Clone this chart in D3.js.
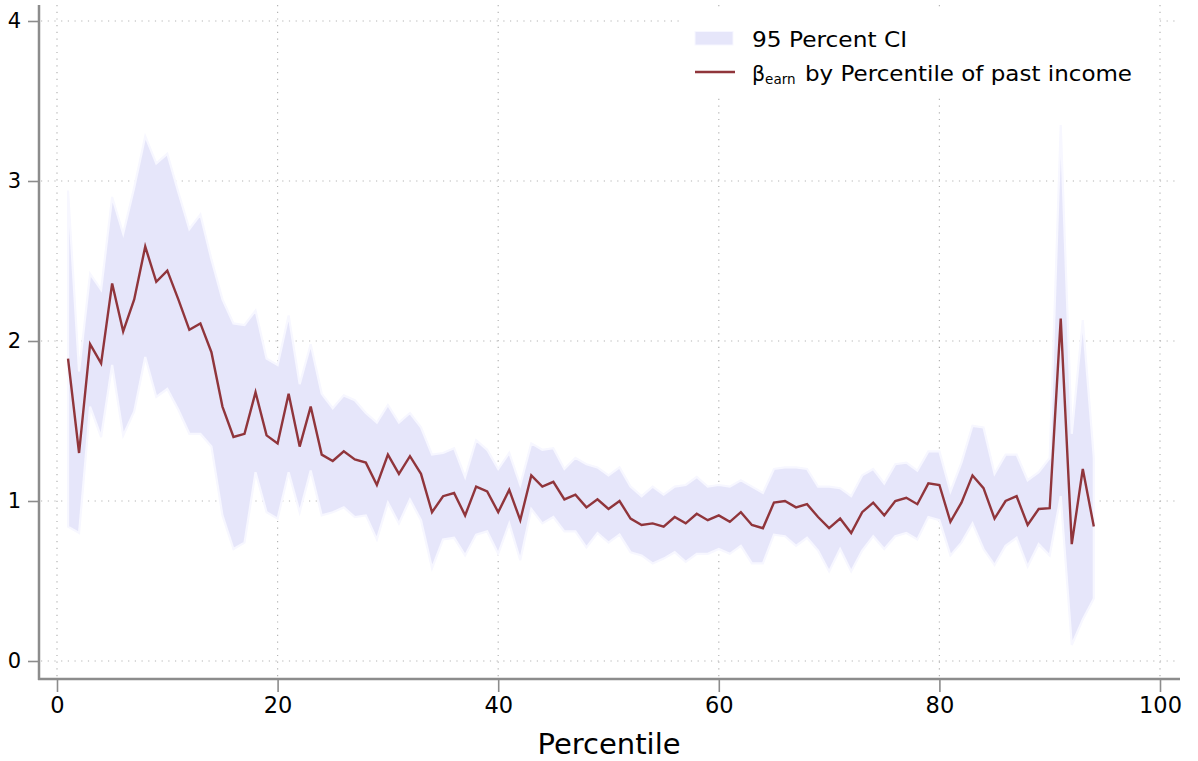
<!DOCTYPE html>
<html><head><meta charset="utf-8">
<script src="https://cdn.jsdelivr.net/npm/d3@7"></script>
<style>body{margin:0;background:#fff}svg{display:block;font-family:"DejaVu Sans",sans-serif}</style>
</head><body><svg id="c" width="1198" height="761"></svg>
<script>
const percentile = [1,2,3,4,5,6,7,8,9,10,11,12,13,14,15,16,17,18,19,20,21,22,23,24,25,26,27,28,29,30,31,32,33,34,35,36,37,38,39,40,41,42,43,44,45,46,47,48,49,50,51,52,53,54,55,56,57,58,59,60,61,62,63,64,65,66,67,68,69,70,71,72,73,74,75,76,77,78,79,80,81,82,83,84,85,86,87,88,89,90,91,92,93,94];
const beta = [1.89,1.30,1.98,1.86,2.36,2.06,2.26,2.59,2.37,2.44,
 2.26,2.07,2.11,1.93,1.59,1.40,1.42,1.68,1.41,1.36,
 1.67,1.34,1.59,1.29,1.25,1.31,1.26,1.24,1.10,1.29,
 1.17,1.28,1.17,0.93,1.03,1.05,0.91,1.09,1.06,0.93,
 1.07,0.88,1.16,1.09,1.12,1.01,1.04,0.96,1.01,0.95,
 1.00,0.89,0.85,0.86,0.84,0.90,0.86,0.92,0.88,0.91,
 0.87,0.93,0.85,0.83,0.99,1.00,0.96,0.98,0.90,0.83,
 0.89,0.80,0.93,0.99,0.91,1.00,1.02,0.98,1.11,1.10,
 0.87,0.99,1.16,1.08,0.89,1.00,1.03,0.85,0.95,0.955,
 2.14,0.73,1.20,0.84];
const ciUpper = [2.94,1.81,2.42,2.32,2.90,2.67,2.96,3.28,3.11,3.17,
 2.93,2.70,2.79,2.51,2.26,2.11,2.10,2.19,1.89,1.85,
 2.16,1.73,1.98,1.67,1.58,1.66,1.63,1.55,1.49,1.60,
 1.49,1.55,1.46,1.29,1.30,1.33,1.15,1.38,1.32,1.20,
 1.30,1.10,1.36,1.32,1.33,1.20,1.27,1.23,1.21,1.16,
 1.21,1.09,1.03,1.09,1.04,1.09,1.10,1.15,1.09,1.10,
 1.09,1.13,1.09,1.05,1.20,1.21,1.21,1.20,1.09,1.09,
 1.08,1.03,1.16,1.20,1.11,1.23,1.24,1.19,1.31,1.31,
 1.06,1.24,1.47,1.46,1.17,1.29,1.29,1.13,1.18,1.27,
 3.35,1.42,2.13,1.27];
const ciLower = [0.84,0.80,1.59,1.40,1.85,1.41,1.56,1.90,1.65,1.70,
 1.57,1.42,1.42,1.34,0.91,0.70,0.74,1.18,0.93,0.89,
 1.18,0.93,1.19,0.91,0.93,0.96,0.90,0.91,0.76,0.99,
 0.86,1.01,0.88,0.58,0.76,0.77,0.66,0.79,0.81,0.67,
 0.86,0.63,0.95,0.86,0.90,0.81,0.81,0.71,0.80,0.74,
 0.79,0.68,0.66,0.61,0.64,0.68,0.62,0.67,0.67,0.70,
 0.67,0.72,0.61,0.61,0.79,0.78,0.72,0.77,0.69,0.56,
 0.70,0.56,0.69,0.78,0.70,0.78,0.80,0.76,0.90,0.88,
 0.66,0.74,0.86,0.70,0.60,0.72,0.77,0.59,0.73,0.66,
 1.03,0.10,0.26,0.39];
const xTicks = [0,20,40,60,80,100];
const yTicks = [0,1,2,3,4];
const xTitle = "Percentile";
const legendCI = "95 Percent CI";
const legendLineSym = "β";
const legendLineSub = "earn";
const legendLineRest = "by Percentile of past income";

const rows = percentile.map((p,i)=>({p, b:beta[i], lo:ciLower[i], hi:ciUpper[i]}));
const svg = d3.select("#c");
const x = d3.scaleLinear().domain([0,100]).range([57,1160]);
const y = d3.scaleLinear().domain([0,4]).range([661,21]);
const axisCol = "#8c8c8c";
const gridCol = "#b4b4b4";
const lineCol = "#90353b";
const bandCol = "#e6e6fa";

// grid
const grid = svg.append("g");
grid.selectAll("line.h").data(yTicks).join("line")
  .attr("x1",41).attr("x2",1180).attr("y1",d=>y(d)).attr("y2",d=>y(d))
  .attr("stroke",gridCol).attr("stroke-width",1.2).attr("stroke-dasharray","1.2,5.5");
grid.selectAll("line.v").data(xTicks).join("line")
  .attr("y1",5).attr("y2",677).attr("x1",d=>x(d)).attr("x2",d=>x(d))
  .attr("stroke",gridCol).attr("stroke-width",1.2).attr("stroke-dasharray","1.2,5.5");

// CI band
const area = d3.area().x(d=>x(d.p)).y0(d=>y(d.lo)).y1(d=>y(d.hi));
svg.append("path").datum(rows).attr("d",area)
  .attr("fill",bandCol).attr("stroke","#f7f7ff").attr("stroke-width",2.2).attr("stroke-linejoin","miter");

// line
const line = d3.line().x(d=>x(d.p)).y(d=>y(d.b));
svg.append("path").datum(rows).attr("d",line)
  .attr("fill","none").attr("stroke",lineCol).attr("stroke-width",2.4).attr("stroke-linejoin","miter");

// axes
const yAxis = d3.axisLeft(y).tickValues(yTicks).tickSize(11).tickPadding(7).tickFormat(d3.format("d"));
const gy = svg.append("g").attr("transform","translate(39,0)").call(yAxis);
gy.select(".domain").remove();
gy.selectAll(".tick line").attr("stroke",axisCol).attr("stroke-width",1.6);
gy.selectAll(".tick text").attr("font-size",21).attr("fill","#000").attr("font-family","DejaVu Sans");

const xAxis = d3.axisBottom(x).tickValues(xTicks).tickSize(13).tickPadding(5).tickFormat(d3.format("d"));
const gx = svg.append("g").attr("transform","translate(0,679)").call(xAxis);
gx.select(".domain").remove();
gx.selectAll(".tick line").attr("stroke",axisCol).attr("stroke-width",1.6);
gx.selectAll(".tick text").attr("font-size",22.5).attr("fill","#000").attr("font-family","DejaVu Sans");

svg.append("line").attr("x1",39).attr("x2",39).attr("y1",5).attr("y2",680).attr("stroke",axisCol).attr("stroke-width",2.5);
svg.append("line").attr("x1",38).attr("x2",1180).attr("y1",679).attr("y2",679).attr("stroke",axisCol).attr("stroke-width",2.5);

svg.append("text").attr("x",609).attr("y",754).attr("text-anchor","middle")
  .attr("font-size",29).attr("fill","#000").text(xTitle);

// legend
const lg = svg.append("g");
lg.append("rect").attr("x",680).attr("y",8).attr("width",478).attr("height",90).attr("fill","#fff");
lg.append("rect").attr("x",695).attr("y",31.5).attr("width",38).attr("height",13.5).attr("fill",bandCol).attr("stroke","#f7f7ff").attr("stroke-width",1);
lg.append("text").attr("x",752).attr("y",47).attr("font-size",20.5).attr("fill","#000")
  .attr("textLength",155).attr("lengthAdjust","spacingAndGlyphs").text(legendCI);
lg.append("line").attr("x1",695).attr("x2",735).attr("y1",72).attr("y2",72).attr("stroke",lineCol).attr("stroke-width",2.4);
const t2 = lg.append("text").attr("x",752).attr("y",81).attr("font-size",20.5).attr("fill","#000");
t2.append("tspan").text(legendLineSym);
t2.append("tspan").attr("font-size",13.5).attr("dy",3).text(legendLineSub);
lg.append("text").attr("x",805).attr("y",81).attr("font-size",20.5).attr("fill","#000")
  .attr("textLength",327).attr("lengthAdjust","spacingAndGlyphs").text(legendLineRest);
</script></body></html>
